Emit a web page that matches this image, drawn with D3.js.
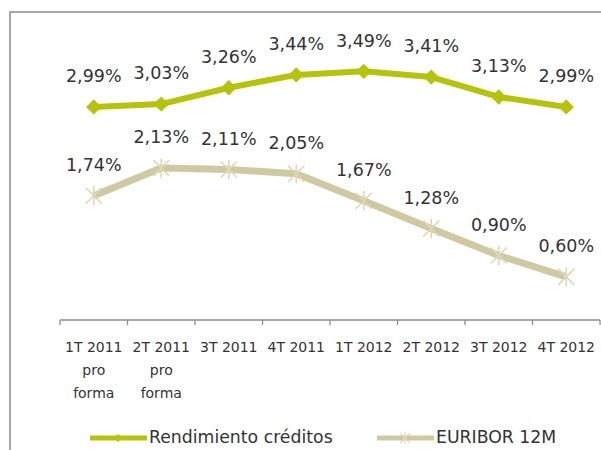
<!DOCTYPE html>
<html>
<head>
<meta charset="utf-8">
<script src="https://cdn.jsdelivr.net/npm/d3@7"></script>
<style>
  body { margin: 0; background: #fff; }
  text { font-family: "DejaVu Sans", sans-serif; fill: #333; }
</style>
</head>
<body>
<div id="chart"></div>
<script>
// chart data
var quarters = ["1T 2011|pro|forma", "2T 2011|pro|forma", "3T 2011", "4T 2011",
                "1T 2012", "2T 2012", "3T 2012", "4T 2012"];
var rendimiento = [2.99, 3.03, 3.26, 3.44, 3.49, 3.41, 3.13, 2.99];
var euribor = [1.74, 2.13, 2.11, 2.05, 1.67, 1.28, 0.90, 0.60];
var seriesNames = ["Rendimiento créditos", "EURIBOR 12M"];

var width = 601, height = 450;
var green = "#b5c30a", tan = "#cfc9a1";

var svg = d3.select("#chart").append("svg")
    .attr("width", width).attr("height", height);

// outer frame (right and bottom edges fall outside the picture)
svg.append("rect")
    .attr("x", 10).attr("y", 12)
    .attr("width", 620).attr("height", 460)
    .attr("fill", "none").attr("stroke", "#8c8c8c").attr("stroke-width", 1.5);

var x = d3.scaleBand().domain(quarters).range([60, 600]);
var y = d3.scaleLinear().domain([0, 4]).range([319.5, 35.1]);
var cx = function(d, i) { return x(quarters[i]) + x.bandwidth() / 2; };

// category axis with ticks between the bands
var axis = svg.append("g");
axis.append("line")
    .attr("x1", 60).attr("x2", 600).attr("y1", 320).attr("y2", 320)
    .attr("stroke", "#8c8c8c").attr("stroke-width", 1.3);
axis.selectAll(".tick")
    .data(quarters.concat(["end"])).enter()
  .append("line")
    .attr("x1", function(d, i) { return 60 + i * x.bandwidth(); })
    .attr("x2", function(d, i) { return 60 + i * x.bandwidth(); })
    .attr("y1", 320).attr("y2", 325)
    .attr("stroke", "#8c8c8c").attr("stroke-width", 1.3);
var labels = axis.selectAll(".qlabel")
    .data(quarters).enter()
  .append("text")
    .attr("text-anchor", "middle")
    .style("font-size", "14px");
labels.selectAll("tspan")
    .data(function(d) { return d.split("|").map(function(s) { return {s: s, q: d}; }); }).enter()
  .append("tspan")
    .attr("x", function(d) { return x(d.q) + x.bandwidth() / 2; })
    .attr("y", function(d, i) { return 351.5 + i * 23; })
    .text(function(d) { return d.s; });

var line = d3.line().x(cx).y(function(d) { return y(d); });

// Rendimiento créditos
svg.append("path").datum(rendimiento)
    .attr("d", line).attr("fill", "none")
    .attr("stroke", green).attr("stroke-width", 6).attr("stroke-linejoin", "round");
svg.selectAll(".diamond").data(rendimiento).enter()
  .append("path")
    .attr("d", d3.symbol().type(d3.symbolDiamond2).size(150))
    .attr("transform", function(d, i) { return "translate(" + cx(d, i) + "," + y(d) + ")"; })
    .attr("fill", green);

// EURIBOR 12M
svg.append("path").datum(euribor)
    .attr("d", line).attr("fill", "none")
    .attr("stroke", tan).attr("stroke-width", 7).attr("stroke-linejoin", "round");
function star(g, r) {
  g.append("line").attr("x1", -r).attr("y1", -r).attr("x2", r).attr("y2", r);
  g.append("line").attr("x1", -r).attr("y1", r).attr("x2", r).attr("y2", -r);
  g.append("line").attr("x1", 0).attr("y1", -r * 1.2).attr("x2", 0).attr("y2", r * 1.2);
}
svg.selectAll(".star").data(euribor).enter()
  .append("g")
    .attr("transform", function(d, i) { return "translate(" + cx(d, i) + "," + y(d) + ")"; })
    .attr("stroke", "#ddd8b8").attr("stroke-width", 1.6)
    .each(function() { star(d3.select(this), 8); });

// data labels
function fmt(v) { return v.toFixed(2).replace(".", ",") + "%"; }
[rendimiento, euribor].forEach(function(series) {
  svg.selectAll(null).data(series).enter()
    .append("text")
      .attr("x", cx)
      .attr("y", function(d) { return y(d) - 31; })
      .attr("dy", "0.36em")
      .attr("text-anchor", "middle")
      .style("font-size", "17.5px")
      .text(fmt);
});

// legend
var legend = svg.append("g");
var legendX = [90, 377];
legend.selectAll("line").data(seriesNames).enter()
  .append("line")
    .attr("x1", function(d, i) { return legendX[i]; })
    .attr("x2", function(d, i) { return legendX[i] + 57; })
    .attr("y1", 438).attr("y2", 438)
    .attr("stroke", function(d, i) { return i ? tan : green; })
    .attr("stroke-width", 5);
legend.append("path")
    .attr("d", d3.symbol().type(d3.symbolDiamond2).size(40))
    .attr("transform", "translate(" + (legendX[0] + 28) + ",438)")
    .attr("fill", green);
legend.append("g")
    .attr("transform", "translate(" + (legendX[1] + 28) + ",438)")
    .attr("stroke", "#ddd8b8").attr("stroke-width", 1.2)
    .each(function() { star(d3.select(this), 5); });
legend.selectAll("text").data(seriesNames).enter()
  .append("text")
    .attr("x", function(d, i) { return legendX[i] + 59; })
    .attr("y", 437).attr("dy", "0.36em")
    .style("font-size", "17.3px")
    .text(function(d) { return d; });
</script>
</body>
</html>
